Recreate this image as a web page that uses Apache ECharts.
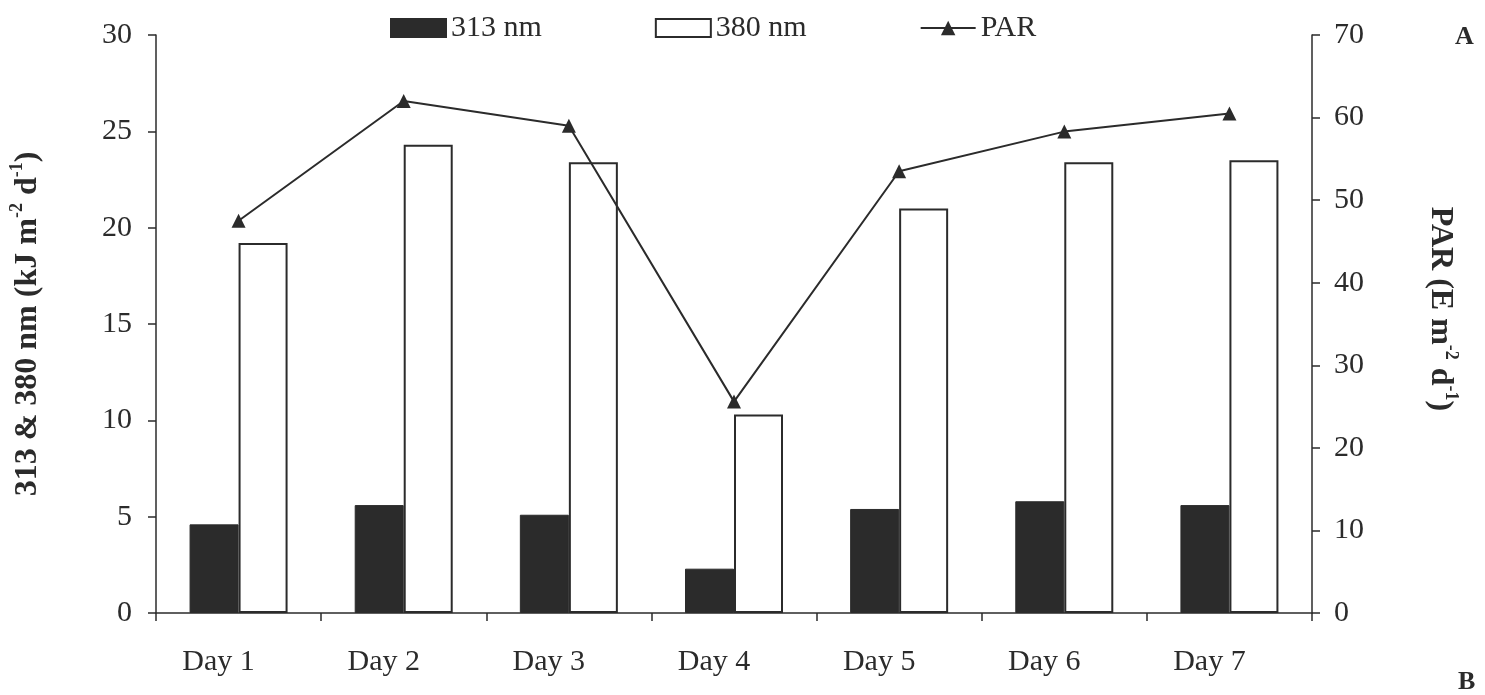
<!DOCTYPE html>
<html>
<head>
<meta charset="utf-8">
<script src="https://cdn.jsdelivr.net/npm/echarts@6/dist/echarts.min.js"></script>
<style>
  html, body { margin: 0; padding: 0; background: #fff; }
  #chart { width: 1485px; height: 695px; }
</style>
</head>
<body>
<div id="chart"></div>
<script>
// values
const days = ['Day 1', 'Day 2', 'Day 3', 'Day 4', 'Day 5', 'Day 6', 'Day 7']
const uv313 = [4.6, 5.6, 5.1, 2.3, 5.4, 5.8, 5.6] // kJ m-2 d-1
const uv380 = [19.2, 24.3, 23.4, 10.3, 21.0, 23.4, 23.5]
const par = [47.5, 62.0, 59.0, 25.6, 53.5, 58.3, 60.5] // E m-2 d-1
const leftTicks = { min: 0, max: 30, interval: 5 }
const rightTicks = { min: 0, max: 70, interval: 10 }

const ink = '#2b2b2b'
const serif = '"Liberation Serif", "Times New Roman", serif'
const labelSize = 30

const chart = echarts.init(document.getElementById('chart'), null, { renderer: 'canvas' })

const nameRich = {
  b: { fontFamily: serif, fontWeight: 'bold', fontSize: 32, color: ink, lineHeight: 36, verticalAlign: 'bottom' },
  s: { fontFamily: serif, fontWeight: 'bold', fontSize: 18, color: ink, lineHeight: 36, verticalAlign: 'top' }
}

chart.setOption({
  animation: false,
  backgroundColor: '#fff',
  textStyle: { fontFamily: serif, color: ink },
  grid: { left: 155, right: 173, top: 35, bottom: 82 },
  legend: {
    left: 385,
    top: 8,
    itemWidth: 55,
    itemHeight: 18,
    itemGap: 113,
    textStyle: { fontFamily: serif, fontSize: labelSize, color: ink },
    data: [
      { name: '313 nm', icon: 'rect' },
      { name: '380 nm', icon: 'rect' },
      { name: 'PAR' }
    ]
  },
  xAxis: {
    type: 'category',
    data: days,
    axisLine: { lineStyle: { color: ink, width: 1.5 } },
    axisTick: { show: true, length: 8, lineStyle: { color: ink, width: 1.5 } },
    axisLabel: { margin: 34, fontFamily: serif, fontSize: labelSize, color: ink, padding: [0, 40, 0, 0] },
    splitLine: { show: false }
  },
  yAxis: [{
    type: 'value',
    min: leftTicks.min,
    max: leftTicks.max,
    interval: leftTicks.interval,
    position: 'left',
    name: '{b|313 & 380 nm (kJ m}{s|-2}{b| d}{s|-1}{b|)}',
    nameLocation: 'middle',
    nameGap: 112,
    nameTextStyle: { rich: nameRich },
    axisLine: { show: true, lineStyle: { color: ink, width: 1.5 } },
    axisTick: { show: true, length: 8, lineStyle: { color: ink, width: 1.5 } },
    axisLabel: { margin: 24, fontFamily: serif, fontSize: labelSize, color: ink },
    splitLine: { show: false }
  }, {
    type: 'value',
    min: rightTicks.min,
    max: rightTicks.max,
    interval: rightTicks.interval,
    position: 'right',
    name: '{b|PAR (E m}{s|-2}{b| d}{s|-1}{b|)}',
    nameLocation: 'middle',
    nameRotate: -90,
    nameGap: 112,
    nameTextStyle: { rich: nameRich, padding: [0, 30, 0, 0] },
    axisLine: { show: true, lineStyle: { color: ink, width: 1.5 } },
    axisTick: { show: true, length: 8, lineStyle: { color: ink, width: 1.5 } },
    axisLabel: { margin: 22, fontFamily: serif, fontSize: labelSize, color: ink },
    splitLine: { show: false }
  }],
  series: [{
    name: '313 nm',
    type: 'bar',
    data: uv313,
    barWidth: 49,
    barGap: '0%',
    itemStyle: { color: ink, borderColor: ink, borderWidth: 1 }
  }, {
    name: '380 nm',
    type: 'bar',
    data: uv380,
    barWidth: 49,
    barGap: '0%',
    itemStyle: { color: '#fff', borderColor: ink, borderWidth: 2 }
  }, {
    name: 'PAR',
    type: 'line',
    yAxisIndex: 1,
    data: par,
    symbol: 'triangle',
    symbolSize: 14,
    itemStyle: { color: ink },
    lineStyle: { color: ink, width: 2 },
    z: 5
  }],
  graphic: [{
    type: 'text',
    left: 1455,
    top: 24,
    style: { text: 'A', font: 'bold 26px ' + serif, fill: ink }
  }, {
    type: 'text',
    left: 1458,
    top: 669,
    style: { text: 'B', font: 'bold 26px ' + serif, fill: ink }
  }]
})
</script>
</body>
</html>
